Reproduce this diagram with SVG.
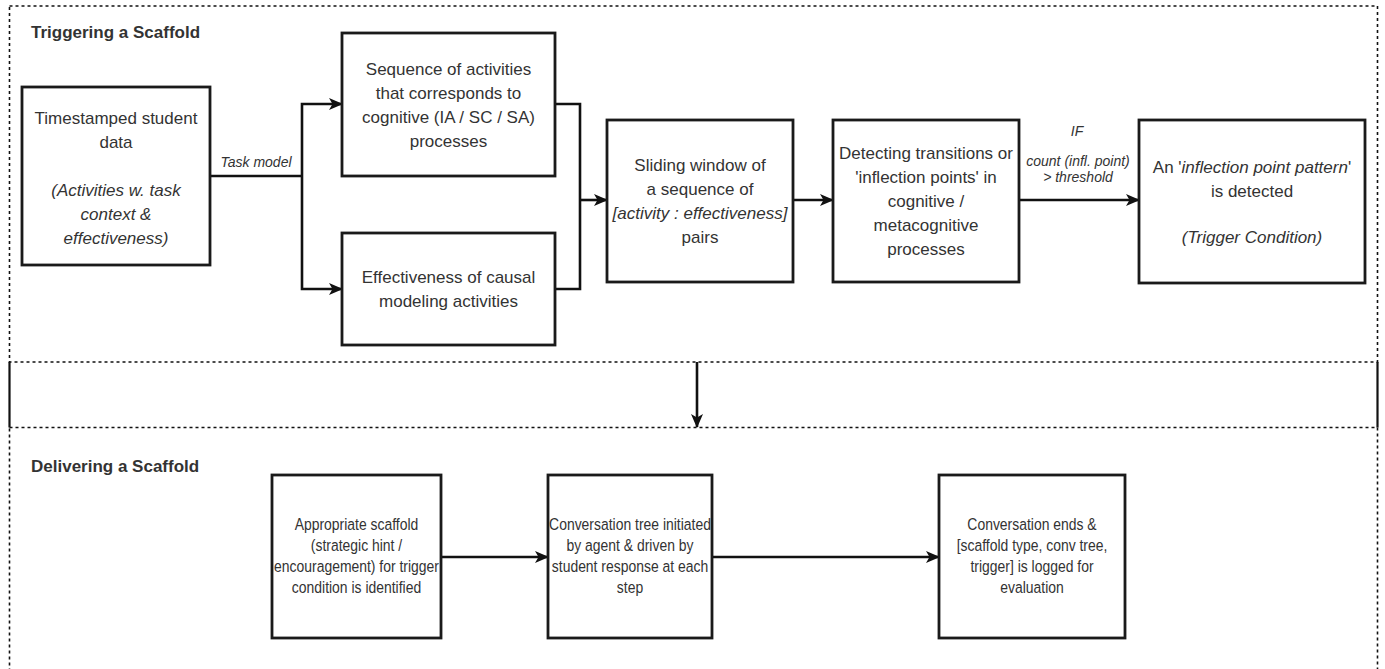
<svg xmlns="http://www.w3.org/2000/svg" width="1385" height="669" viewBox="0 0 1385 669">
  <style>
    .frame { fill: none; stroke: #111; stroke-width: 1.6; stroke-dasharray: 3 3; }
    .band { stroke: #111; stroke-width: 2.2; }
    .box { fill: #fff; stroke: #1a1a1a; stroke-width: 2.8; }
    .edge { fill: none; stroke: #111; stroke-width: 2.6; }
    .title { font-family: "Liberation Sans", Arial, sans-serif; font-size: 17px; font-weight: bold; fill: #333; }
    .t { font-family: "Liberation Sans", Arial, sans-serif; font-size: 17px; fill: #333; text-anchor: middle; }
    .lbl { font-family: "Liberation Sans", Arial, sans-serif; font-size: 14px; font-style: italic; fill: #333; text-anchor: middle; }
    .i { font-style: italic; }
  </style>
  <defs>
    <marker id="arrow" viewBox="0 0 14 12" refX="13" refY="6" markerWidth="14" markerHeight="12" markerUnits="userSpaceOnUse" orient="auto">
      <path d="M0,0 L14,6 L0,12 L3.5,6 Z" fill="#111"/>
    </marker>
  </defs>

  <rect width="1385" height="669" fill="#fff"/>

  <!-- section frames -->
  <g id="frames">
    <rect class="frame" x="9.5" y="6" width="1368" height="356"/>
    <rect class="frame" x="9.5" y="427.5" width="1368" height="260"/>
    <line class="band" x1="9.5" y1="362" x2="9.5" y2="427.5"/>
    <line class="band" x1="1377.5" y1="362" x2="1377.5" y2="427.5"/>
    <text class="title" x="31" y="38">Triggering a Scaffold</text>
    <text class="title" x="31" y="472">Delivering a Scaffold</text>
  </g>

  <!-- connectors -->
  <g id="connectors">
    <path class="edge" d="M210,176 H302"/>
    <path class="edge" d="M302,176 V104 H342" marker-end="url(#arrow)"/>
    <path class="edge" d="M302,176 V289 H342" marker-end="url(#arrow)"/>
    <path class="edge" d="M555,104 H580 V289 H555"/>
    <path class="edge" d="M580,200 H607" marker-end="url(#arrow)"/>
    <path class="edge" d="M793,200 H833" marker-end="url(#arrow)"/>
    <path class="edge" d="M1019,200 H1139" marker-end="url(#arrow)"/>
    <path class="edge" d="M697,362 V427" marker-end="url(#arrow)"/>
    <path class="edge" d="M441,557 H548" marker-end="url(#arrow)"/>
    <path class="edge" d="M712,557 H939" marker-end="url(#arrow)"/>
    <text class="lbl" x="256" y="167">Task model</text>
    <text class="lbl" x="1077" y="136">IF</text>
    <text class="lbl" x="1078" y="166">count (infl. point)</text>
    <text class="lbl" x="1078" y="182">&gt; threshold</text>
  </g>

  <!-- upper section nodes -->
  <g id="student-data">
    <rect class="box" x="22" y="87" width="188" height="178"/>
    <text class="t" x="116" y="124">Timestamped student</text>
    <text class="t" x="116" y="148">data</text>
    <text class="t i" x="116" y="196">(Activities w. task</text>
    <text class="t i" x="116" y="220">context &amp;</text>
    <text class="t i" x="116" y="244">effectiveness)</text>
  </g>

  <g id="activity-sequence">
    <rect class="box" x="342" y="33" width="213" height="143"/>
    <text class="t" x="448.5" y="75">Sequence of activities</text>
    <text class="t" x="448.5" y="99">that corresponds to</text>
    <text class="t" x="448.5" y="123">cognitive (IA / SC / SA)</text>
    <text class="t" x="448.5" y="147">processes</text>
  </g>

  <g id="effectiveness">
    <rect class="box" x="342" y="233" width="213" height="112"/>
    <text class="t" x="448.5" y="283">Effectiveness of causal</text>
    <text class="t" x="448.5" y="307">modeling activities</text>
  </g>

  <g id="sliding-window">
    <rect class="box" x="607" y="120" width="186" height="162"/>
    <text class="t" x="700" y="171">Sliding window of</text>
    <text class="t" x="700" y="195">a sequence of</text>
    <text class="t i" x="700" y="219">[activity : effectiveness]</text>
    <text class="t" x="700" y="243">pairs</text>
  </g>

  <g id="inflection-detect">
    <rect class="box" x="833" y="120" width="186" height="162"/>
    <text class="t" x="926" y="159">Detecting transitions or</text>
    <text class="t" x="926" y="183">'inflection points' in</text>
    <text class="t" x="926" y="207">cognitive /</text>
    <text class="t" x="926" y="231">metacognitive</text>
    <text class="t" x="926" y="255">processes</text>
  </g>

  <g id="trigger-condition">
    <rect class="box" x="1139" y="120" width="226" height="163"/>
    <text class="t" x="1252" y="173">An '<tspan class="i">inflection point pattern</tspan>'</text>
    <text class="t" x="1252" y="197">is detected</text>
    <text class="t i" x="1252" y="243">(Trigger Condition)</text>
  </g>

  <!-- lower section nodes: condensed lettering -->
  <g id="select-scaffold">
    <rect class="box" x="272" y="475" width="169" height="163"/>
    <g transform="translate(356.5,0) scale(0.82,1)">
      <text class="t" x="0" y="530">Appropriate scaffold</text>
      <text class="t" x="0" y="551">(strategic hint /</text>
      <text class="t" x="0" y="572">encouragement) for trigger</text>
      <text class="t" x="0" y="593">condition is identified</text>
    </g>
  </g>

  <g id="conversation-tree">
    <rect class="box" x="548" y="475" width="164" height="163"/>
    <g transform="translate(630,0) scale(0.82,1)">
      <text class="t" x="0" y="530">Conversation tree initiated</text>
      <text class="t" x="0" y="551">by agent &amp; driven by</text>
      <text class="t" x="0" y="572">student response at each</text>
      <text class="t" x="0" y="593">step</text>
    </g>
  </g>

  <g id="log-evaluation">
    <rect class="box" x="939" y="475" width="186" height="163"/>
    <g transform="translate(1032,0) scale(0.82,1)">
      <text class="t" x="0" y="530">Conversation ends &amp;</text>
      <text class="t" x="0" y="551">[scaffold type, conv tree,</text>
      <text class="t" x="0" y="572">trigger] is logged for</text>
      <text class="t" x="0" y="593">evaluation</text>
    </g>
  </g>
</svg>
